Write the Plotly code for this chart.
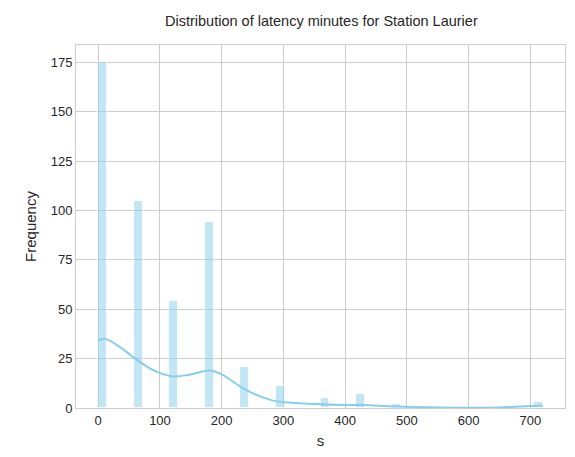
import plotly.graph_objects as go

# histogram bins (width 14.4, starting at 0) and counts
bin_width = 14.4
bin_left = [0, 57.6, 115.2, 172.8, 230.4, 288.0, 360.0, 417.6, 475.2, 705.6]
counts = [175, 105, 54, 94, 21, 11, 5, 7, 2, 3]

# kde curve (scaled to counts)
kde_x = [0, 10, 30, 60, 90, 120, 150, 180, 200, 240, 280, 300, 350, 400, 430, 480, 550, 650, 700, 720]
kde_y = [34, 35, 32, 25, 19, 16, 17, 19, 17, 9, 4, 3, 2, 1.5, 1.5, 0.8, 0.3, 0.3, 1.0, 1.2]

fig = go.Figure()
fig.add_trace(go.Bar(
    x=[b + bin_width / 2 for b in bin_left], y=counts, width=bin_width,
    marker=dict(color="rgba(135,206,235,0.5)", line=dict(color="white", width=0.8)),
))
fig.add_trace(go.Scatter(
    x=kde_x, y=kde_y, mode="lines", line=dict(color="#87CEEB", width=2, shape="spline"),
))

axis = dict(showgrid=True, gridcolor="#cccccc", gridwidth=1, zeroline=False, automargin=False,
            showline=True, linecolor="#cccccc", mirror=True, ticks="",
            tickfont=dict(size=13, color="#262626"), title_font=dict(size=15, color="#262626"))
fig.update_layout(
    width=575, height=457, showlegend=False, bargap=0,
    plot_bgcolor="white", paper_bgcolor="white",
    font=dict(family="Liberation Sans, Arial", color="#262626"),
    title=dict(text="Distribution of latency minutes for Station Laurier", x=0.545, xanchor="center",
               y=0.972, yanchor="middle", automargin=False, font=dict(size=14.5, color="#262626")),
    margin=dict(l=68, r=18, t=37, b=57, autoexpand=False),
    xaxis=dict(axis, title_text="s", title_standoff=8, range=[-36, 756],
               tickvals=[0, 100, 200, 300, 400, 500, 600, 700]),
    yaxis=dict(axis, title_text="Frequency", title_standoff=10, range=[0, 183.75],
               tickvals=[0, 25, 50, 75, 100, 125, 150, 175]),
)
fig.write_html("out.html")
